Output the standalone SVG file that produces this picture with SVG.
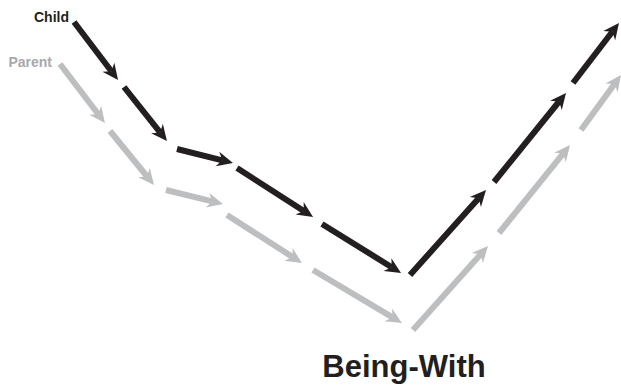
<svg xmlns="http://www.w3.org/2000/svg" width="621" height="388" viewBox="0 0 621 388">
<style>
.k{stroke:#231f20;stroke-width:6;fill:none;marker-end:url(#ak)}
.g{stroke:#bcbec0;stroke-width:6;fill:none;marker-end:url(#ag)}
text{font-family:"Liberation Sans",Arial,sans-serif;font-weight:bold}
</style>
<defs>
<marker id="ak" markerUnits="userSpaceOnUse" orient="auto" refX="0" refY="0" viewBox="-6 -9 20 18" markerWidth="20" markerHeight="18" overflow="visible">
<path d="M11,0 L-5,-7.5 L0,0 L-5,7.5 Z" fill="#231f20"/>
</marker>
<marker id="ag" markerUnits="userSpaceOnUse" orient="auto" refX="0" refY="0" viewBox="-6 -9 20 18" markerWidth="20" markerHeight="18" overflow="visible">
<path d="M11,0 L-5,-7.5 L0,0 L-5,7.5 Z" fill="#bcbec0"/>
</marker>
</defs>
<g id="labels">
<text id="child" x="69" y="22" font-size="14" fill="#231f20" text-anchor="end">Child</text>
<text id="parent" x="52" y="67" font-size="14" fill="#a7a9ac" text-anchor="end">Parent</text>
<text id="being-with" x="404" y="377" font-size="31" fill="#231f20" text-anchor="middle">Being-With</text>
</g>
<g id="connectors">
<g id="parent-path">
<line class="g" x1="60" y1="64" x2="98.3" y2="114.3"/>
<line class="g" x1="110" y1="131" x2="147.1" y2="176.5"/>
<line class="g" x1="166" y1="190" x2="212.3" y2="201.4"/>
<line class="g" x1="227" y1="215" x2="292.7" y2="257.1"/>
<line class="g" x1="313" y1="270" x2="392.5" y2="317.4"/>
<line class="g" x1="413" y1="330" x2="480.7" y2="254.2"/>
<line class="g" x1="499" y1="233" x2="563.1" y2="153.6"/>
<line class="g" x1="581" y1="130" x2="614.5" y2="83.9"/>
</g>
<g id="child-path">
<line class="k" x1="74" y1="22" x2="111.4" y2="71.2"/>
<line class="k" x1="124" y1="87" x2="160.1" y2="132.4"/>
<line class="k" x1="177" y1="149" x2="222.3" y2="160.3"/>
<line class="k" x1="237" y1="168" x2="303.8" y2="211"/>
<line class="k" x1="322" y1="224" x2="391.7" y2="267.2"/>
<line class="k" x1="410" y1="275" x2="478.7" y2="198.2"/>
<line class="k" x1="494" y1="182" x2="559.1" y2="101.5"/>
<line class="k" x1="573" y1="83" x2="612.3" y2="31.7"/>
</g>
</g>
</svg>
